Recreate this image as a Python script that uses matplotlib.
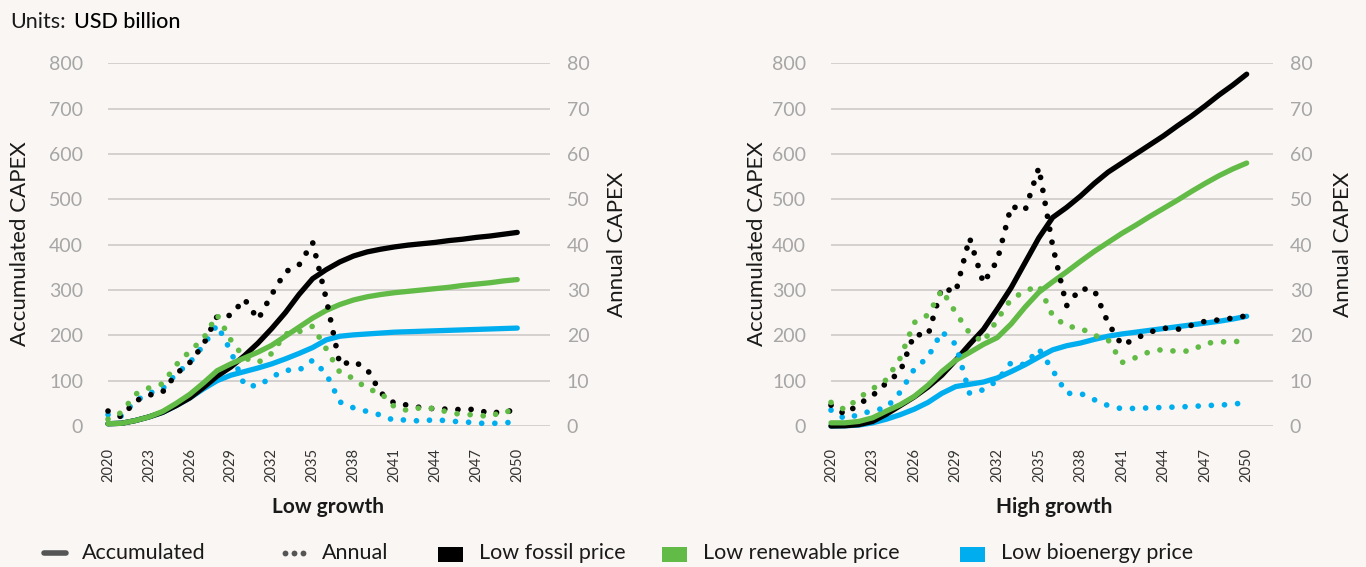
import matplotlib
matplotlib.use("Agg")
import matplotlib.pyplot as plt
from matplotlib.lines import Line2D
from matplotlib.patches import Rectangle

# ---------------------------------------------------------------- data
years = list(range(2020, 2051))
tick_years = list(range(2020, 2051, 3))

scenarios = ["Low fossil price", "Low renewable price", "Low bioenergy price"]

# Low growth: accumulated CAPEX (USD billion)
low_acc_fossil = [5, 6, 12, 20, 30, 45, 62, 85, 110, 130, 155, 183, 215, 250, 290,
                  325, 345, 362, 375, 384, 390, 395, 399, 402, 405, 409, 412, 416,
                  419, 423, 427]
low_acc_renew = [5, 6, 12, 20, 32, 50, 70, 95, 122, 137, 150, 163, 178, 198, 218,
                 238, 255, 268, 278, 285, 290, 294, 297, 300, 303, 306, 310, 313,
                 316, 320, 323]
low_acc_bio = [5, 6, 12, 20, 30, 45, 62, 82, 100, 112, 120, 128, 137, 148, 160,
               173, 190, 198, 201, 203, 205, 207, 208, 209, 210, 211, 212, 213,
               214, 215, 216]

# Low growth: annual CAPEX (USD billion)
low_ann_fossil = [3.3, 2.0, 5.5, 6.8, 7.5, 11.5, 14.0, 18.0, 24.2, 24.4, 28.0, 23.5,
                  29.0, 34.0, 35.5, 40.5, 28.0, 13.5, 14.3, 12.5, 7.3, 5.0, 4.6,
                  4.0, 3.8, 3.7, 3.6, 3.7, 2.7, 3.3, 3.3]
low_ann_renew = [1.5, 3.0, 7.0, 8.4, 9.3, 13.5, 16.5, 19.3, 24.5, 19.0, 15.0, 14.0,
                 16.0, 20.3, 20.8, 22.0, 17.0, 11.8, 10.5, 8.2, 7.3, 4.2, 3.4, 4.1,
                 3.8, 3.0, 2.5, 2.5, 2.0, 3.4, 2.8]
low_ann_bio = [2.5, 2.2, 5.5, 7.2, 8.2, 11.5, 14.0, 17.8, 22.3, 16.5, 9.0, 8.8,
               10.8, 12.3, 12.3, 14.5, 11.5, 5.3, 4.0, 3.2, 2.4, 1.2, 1.4, 1.0,
               1.5, 1.0, 1.0, 0.6, 0.6, 0.6, 1.1]

# High growth: accumulated CAPEX (USD billion)
high_acc_fossil = [0, 0.5, 3, 10, 26, 45, 64, 86, 112, 145, 180, 213, 258, 305, 360,
                   415, 460, 482, 507, 535, 560, 580, 600, 620, 640, 662, 683, 706,
                   730, 752, 776]
high_acc_renew = [7, 7, 10, 18, 33, 47, 65, 90, 120, 145, 162, 180, 195, 225, 262,
                  295, 318, 340, 363, 385, 405, 425, 443, 462, 480, 498, 517, 535,
                  552, 567, 580]
high_acc_bio = [0, 0.5, 2, 7, 15, 25, 37, 52, 72, 87, 92, 97, 106, 120, 135, 152,
                168, 177, 183, 191, 198, 203, 207, 211, 215, 219, 223, 227, 231,
                236, 242]

# High growth: annual CAPEX (USD billion)
high_ann_fossil = [4.6, 2.6, 4.8, 6.7, 9.5, 12.0, 20.2, 20.0, 30.5, 29.5, 41.5, 31.5,
                   36.5, 48.5, 47.5, 57.0, 39.7, 26.5, 30.3, 30.0, 22.7, 17.8, 19.3,
                   20.7, 21.6, 21.3, 22.2, 23.1, 23.4, 23.8, 24.3]
high_ann_renew = [5.2, 3.6, 6.2, 8.2, 10.2, 15.0, 22.8, 24.5, 30.0, 25.0, 20.5, 18.5,
                  23.5, 28.0, 29.7, 31.0, 24.3, 22.0, 21.6, 20.0, 19.0, 14.0, 15.1,
                  16.4, 16.9, 16.4, 16.6, 18.2, 18.6, 18.5, 19.0]
high_ann_bio = [3.5, 1.6, 2.5, 3.4, 4.0, 7.5, 12.5, 15.2, 20.8, 18.0, 7.2, 8.0,
                10.0, 14.0, 13.5, 17.0, 12.3, 7.2, 7.2, 5.8, 4.5, 3.8, 3.9, 4.0,
                4.1, 4.2, 4.3, 4.5, 4.6, 4.8, 5.2]

acc_ticks = list(range(0, 801, 100))
ann_ticks = list(range(0, 81, 10))

# ---------------------------------------------------------------- style
BG = "#FAF6F3"
C_FOSSIL = "#000000"
C_RENEW = "#62BB46"
C_BIO = "#00AEEF"
GRID = "#C9C6C4"
TICK_GREY = "#A6A6A6"
TEXT = "#1A1A1A"

plt.rcParams["font.family"] = ["Lato", "DejaVu Sans"]

W, H = 1366, 567
fig = plt.figure(figsize=(W / 100, H / 100), dpi=100, facecolor=BG)

ACC_LW = 3.8
DOT_LW = 4.1
DOT_STYLE = (0, (0.01, 2.3))


def px_box(x0, x1, ytop, ybot):
    return [x0 / W, 1 - ybot / H, (x1 - x0) / W, (ybot - ytop) / H]


def draw_panel(box, xmax, acc, ann, title, title_x):
    ax = fig.add_axes(box)
    ax2 = ax.twinx()
    for a in (ax, ax2):
        a.set_facecolor("none")
        for s in a.spines.values():
            s.set_visible(False)
    ax.set_xlim(2020, xmax)
    ax.set_ylim(0, 800)
    ax2.set_ylim(0, 80)
    ax.set_yticks(acc_ticks)
    ax2.set_yticks(ann_ticks)
    ax.set_xticks(tick_years)
    ax.set_xticklabels([str(y) for y in tick_years], rotation=90,
                       fontsize=10.5, color="#333333")
    ax.tick_params(axis="x", length=0, pad=16)
    ax.tick_params(axis="y", length=0, pad=18, labelsize=14, labelcolor=TICK_GREY)
    ax2.tick_params(axis="y", length=0, pad=12, labelsize=14, labelcolor=TICK_GREY)
    ax.grid(axis="y", color=GRID, linewidth=1.1)
    ax.set_axisbelow(True)

    # accumulated: solid lines on the left axis
    order = [2, 0, 1]
    colors = [C_FOSSIL, C_RENEW, C_BIO]
    for i in order:
        ax.plot(years, acc[i], color=colors[i], lw=ACC_LW,
                solid_capstyle="round", solid_joinstyle="round",
                clip_on=False, zorder=3)
    # annual: dotted lines on the right axis
    for i in order:
        ax2.plot(years, ann[i], color=colors[i], lw=DOT_LW, ls=DOT_STYLE,
                 dash_capstyle="round", clip_on=False, zorder=3)

    fig.text(title_x / W, 1 - 507 / H, title, ha="center", va="center",
             fontsize=15, fontweight="bold", color=TEXT)
    return ax, ax2


draw_panel(px_box(108, 550, 63.3, 426), 2052.4,
           [low_acc_fossil, low_acc_renew, low_acc_bio],
           [low_ann_fossil, low_ann_renew, low_ann_bio],
           "Low growth", 328)
draw_panel(px_box(831, 1273, 63.3, 426), 2051.9,
           [high_acc_fossil, high_acc_renew, high_acc_bio],
           [high_ann_fossil, high_ann_renew, high_ann_bio],
           "High growth", 1054)

# axis titles
for x, label in [(20, "Accumulated CAPEX"), (617, "Annual CAPEX"),
                 (757, "Accumulated CAPEX"), (1343, "Annual CAPEX")]:
    fig.text(x / W, 1 - 244 / H, label, rotation=90, ha="center", va="center",
             fontsize=16, color=TEXT)

# units note
fig.text(10 / W, 1 - 22 / H, "Units:", ha="left", va="center",
         fontsize=15.5, color=TEXT)
fig.text(74 / W, 1 - 22 / H, "USD billion", ha="left", va="center",
         fontsize=15.5, color="#000000", fontweight="medium")

# ---------------------------------------------------------------- legend
LEG_Y = 1 - 553 / H
LEG_GREY = "#555555"
fig.add_artist(Line2D([44 / W, 66 / W], [LEG_Y, LEG_Y], color=LEG_GREY, lw=4.0,
                      solid_capstyle="round", transform=fig.transFigure))
fig.text(82 / W, LEG_Y, "Accumulated", ha="left", va="center", fontsize=15.5,
         color=TEXT)
for dx in (285, 294, 303):
    fig.add_artist(Line2D([dx / W], [LEG_Y], marker="o", markersize=4.2,
                          markeredgewidth=0, color=LEG_GREY, linestyle="none",
                          transform=fig.transFigure))
fig.text(322 / W, LEG_Y, "Annual", ha="left", va="center", fontsize=15.5,
         color=TEXT)

for x0, color, label in [(438, C_FOSSIL, scenarios[0]),
                         (662, C_RENEW, scenarios[1]),
                         (960, C_BIO, scenarios[2])]:
    fig.add_artist(Rectangle((x0 / W, 1 - 562 / H), 25 / W, 15 / H,
                             facecolor=color, edgecolor="none",
                             transform=fig.transFigure))
    fig.text((x0 + 41) / W, LEG_Y, label, ha="left", va="center", fontsize=15.5,
             color=TEXT)

fig.savefig("out.png", dpi=100, facecolor=BG)
